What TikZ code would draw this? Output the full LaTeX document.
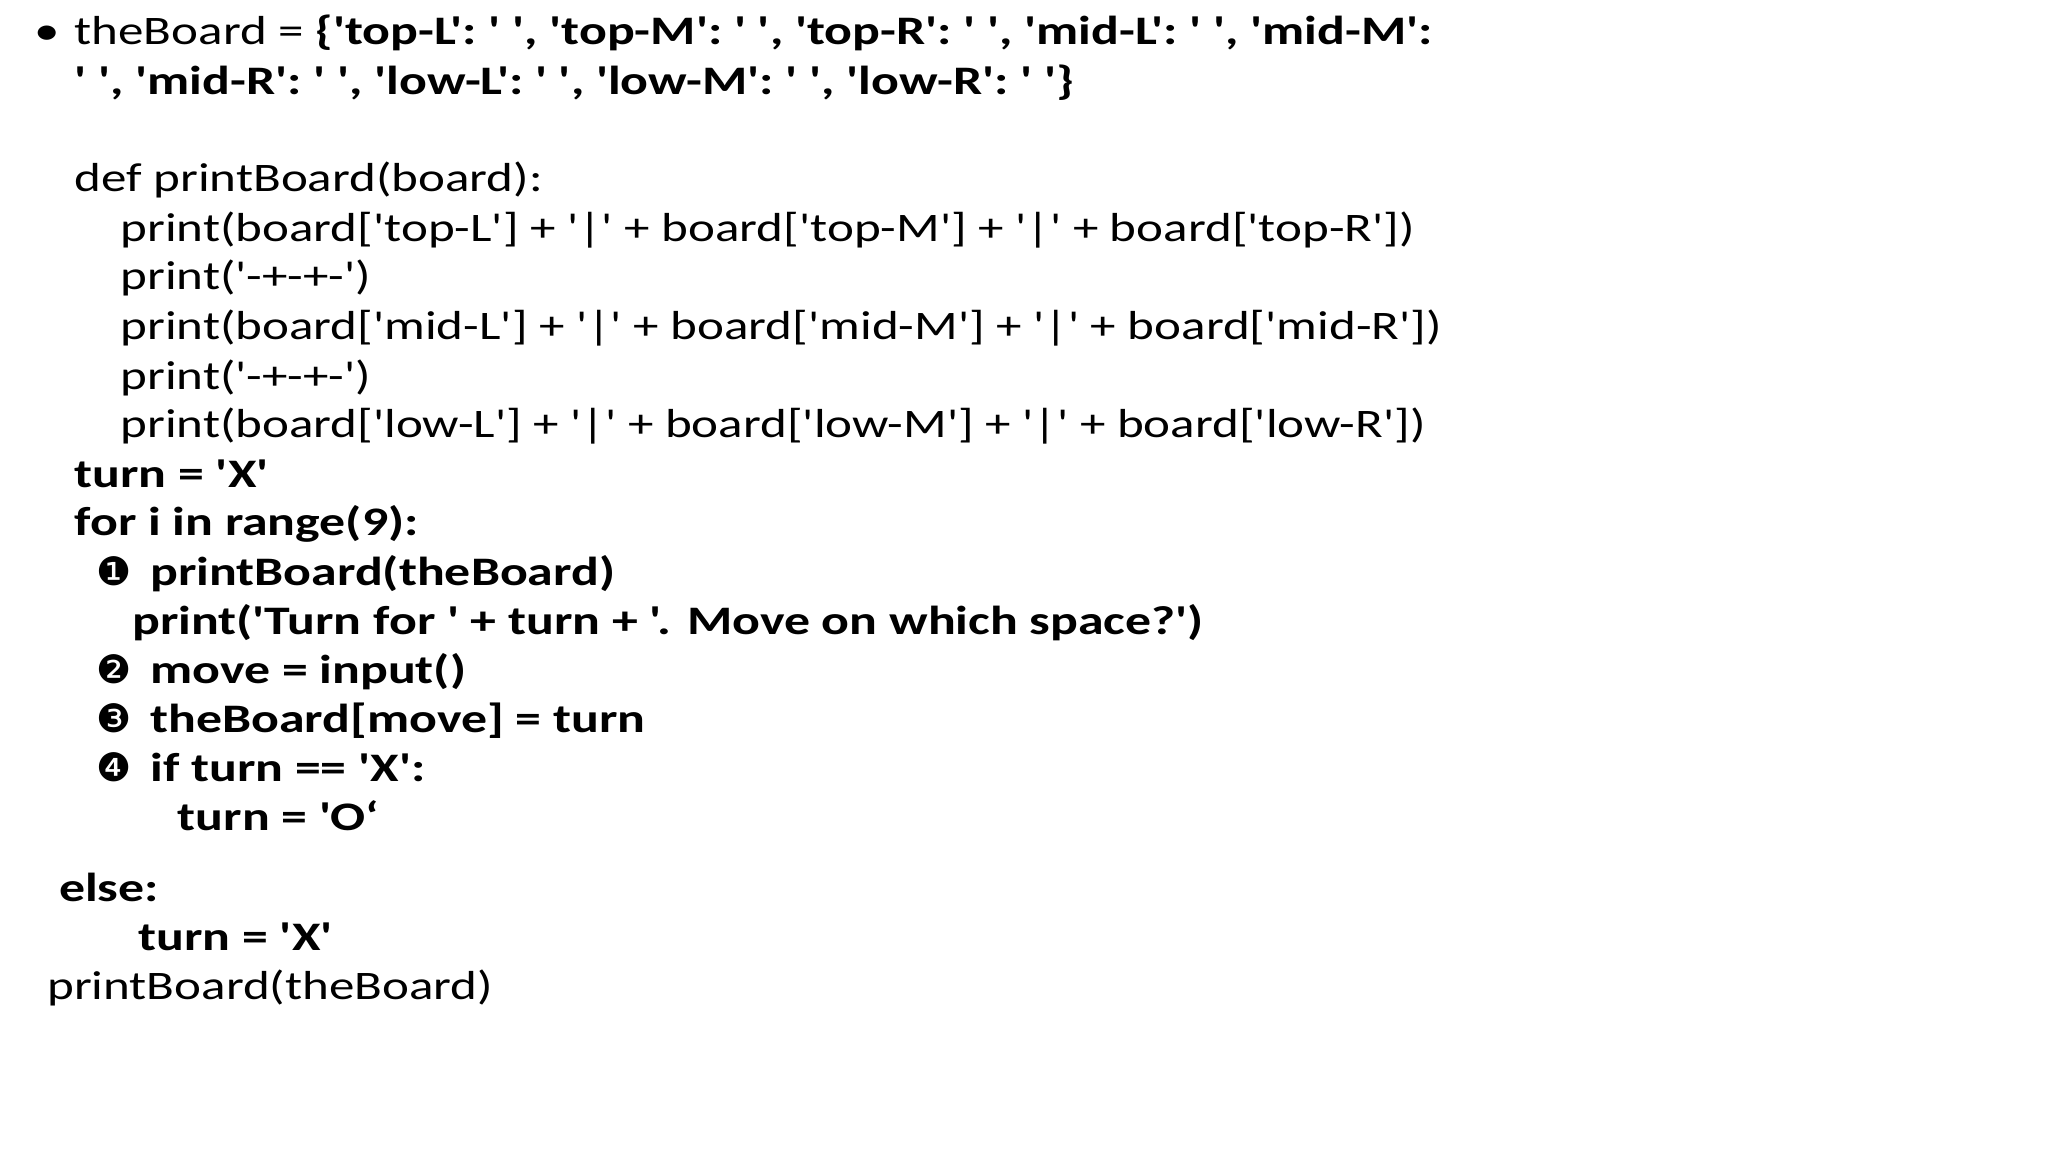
\documentclass[tikz,border=0pt]{standalone}
\usepackage{fontspec}
\newfontfamily\cf{Carlito}[FakeStretch=1.26,BoldFeatures={FakeStretch=1.28}]
\newfontfamily\djv{DejaVu Sans}
\begin{document}
\begin{tikzpicture}[x=1pt,y=-1pt,L/.style={anchor=base west,inner sep=0pt,font=\cf\fontsize{31}{37.7}\selectfont},C/.style={anchor=base west,inner sep=0pt,font=\djv\fontsize{30}{36}\selectfont}]
\useasboundingbox (0,0) rectangle (1568,882);
\node[L] (b) at (26,34) {•};
\node[L] (l1) at (57,34) {theBoard = \textbf{\{'top-L': ' ', 'top-M': ' ', 'top-R': ' ', 'mid-L': ' ', 'mid-M':}};
\node[L] (l2) at (57,72) {\textbf{' ', 'mid-R': ' ', 'low-L': ' ', 'low-M': ' ', 'low-R': ' '\}}};
\node[L] (l3) at (57,147) {def printBoard(board):};
\node[L] (l4) at (92,185) {print(board['top-L'] + '|' + board['top-M'] + '|' + board['top-R'])};
\node[L] (l5) at (92,222) {print('-+-+-')};
\node[L] (l6) at (92,260) {print(board['mid-L'] + '|' + board['mid-M'] + '|' + board['mid-R'])};
\node[L] (l7) at (92,298) {print('-+-+-')};
\node[L] (l8) at (92,335) {print(board['low-L'] + '|' + board['low-M'] + '|' + board['low-R'])};
\node[L] (l9) at (57,373) {\textbf{turn = 'X'}};
\node[L] (l10) at (57,410) {\textbf{for i in range(9):}};
\node[C] (n1) at (74,448) {❶};
\node[L] (l11) at (115,448) {\textbf{printBoard(theBoard)}};
\node[L] (l12) at (101,486) {\textbf{print('Turn for ' + turn + '. Move on which space?')}};
\node[C] (n2) at (74,523) {❷};
\node[L] (l13) at (115,523) {\textbf{move = input()}};
\node[C] (n3) at (74,561) {❸};
\node[L] (l14) at (115,561) {\textbf{theBoard[move] = turn}};
\node[C] (n4) at (74,598) {❹};
\node[L] (l15) at (115,598) {\textbf{if turn == 'X':}};
\node[L] (l16) at (136,636) {\textbf{turn = 'O‘}};
\node[L] (l17) at (45,690) {\textbf{else:}};
\node[L] (l18) at (106,728) {\textbf{turn = 'X'}};
\node[L] (l19) at (36,765) {printBoard(theBoard)};
\end{tikzpicture}
\end{document}
